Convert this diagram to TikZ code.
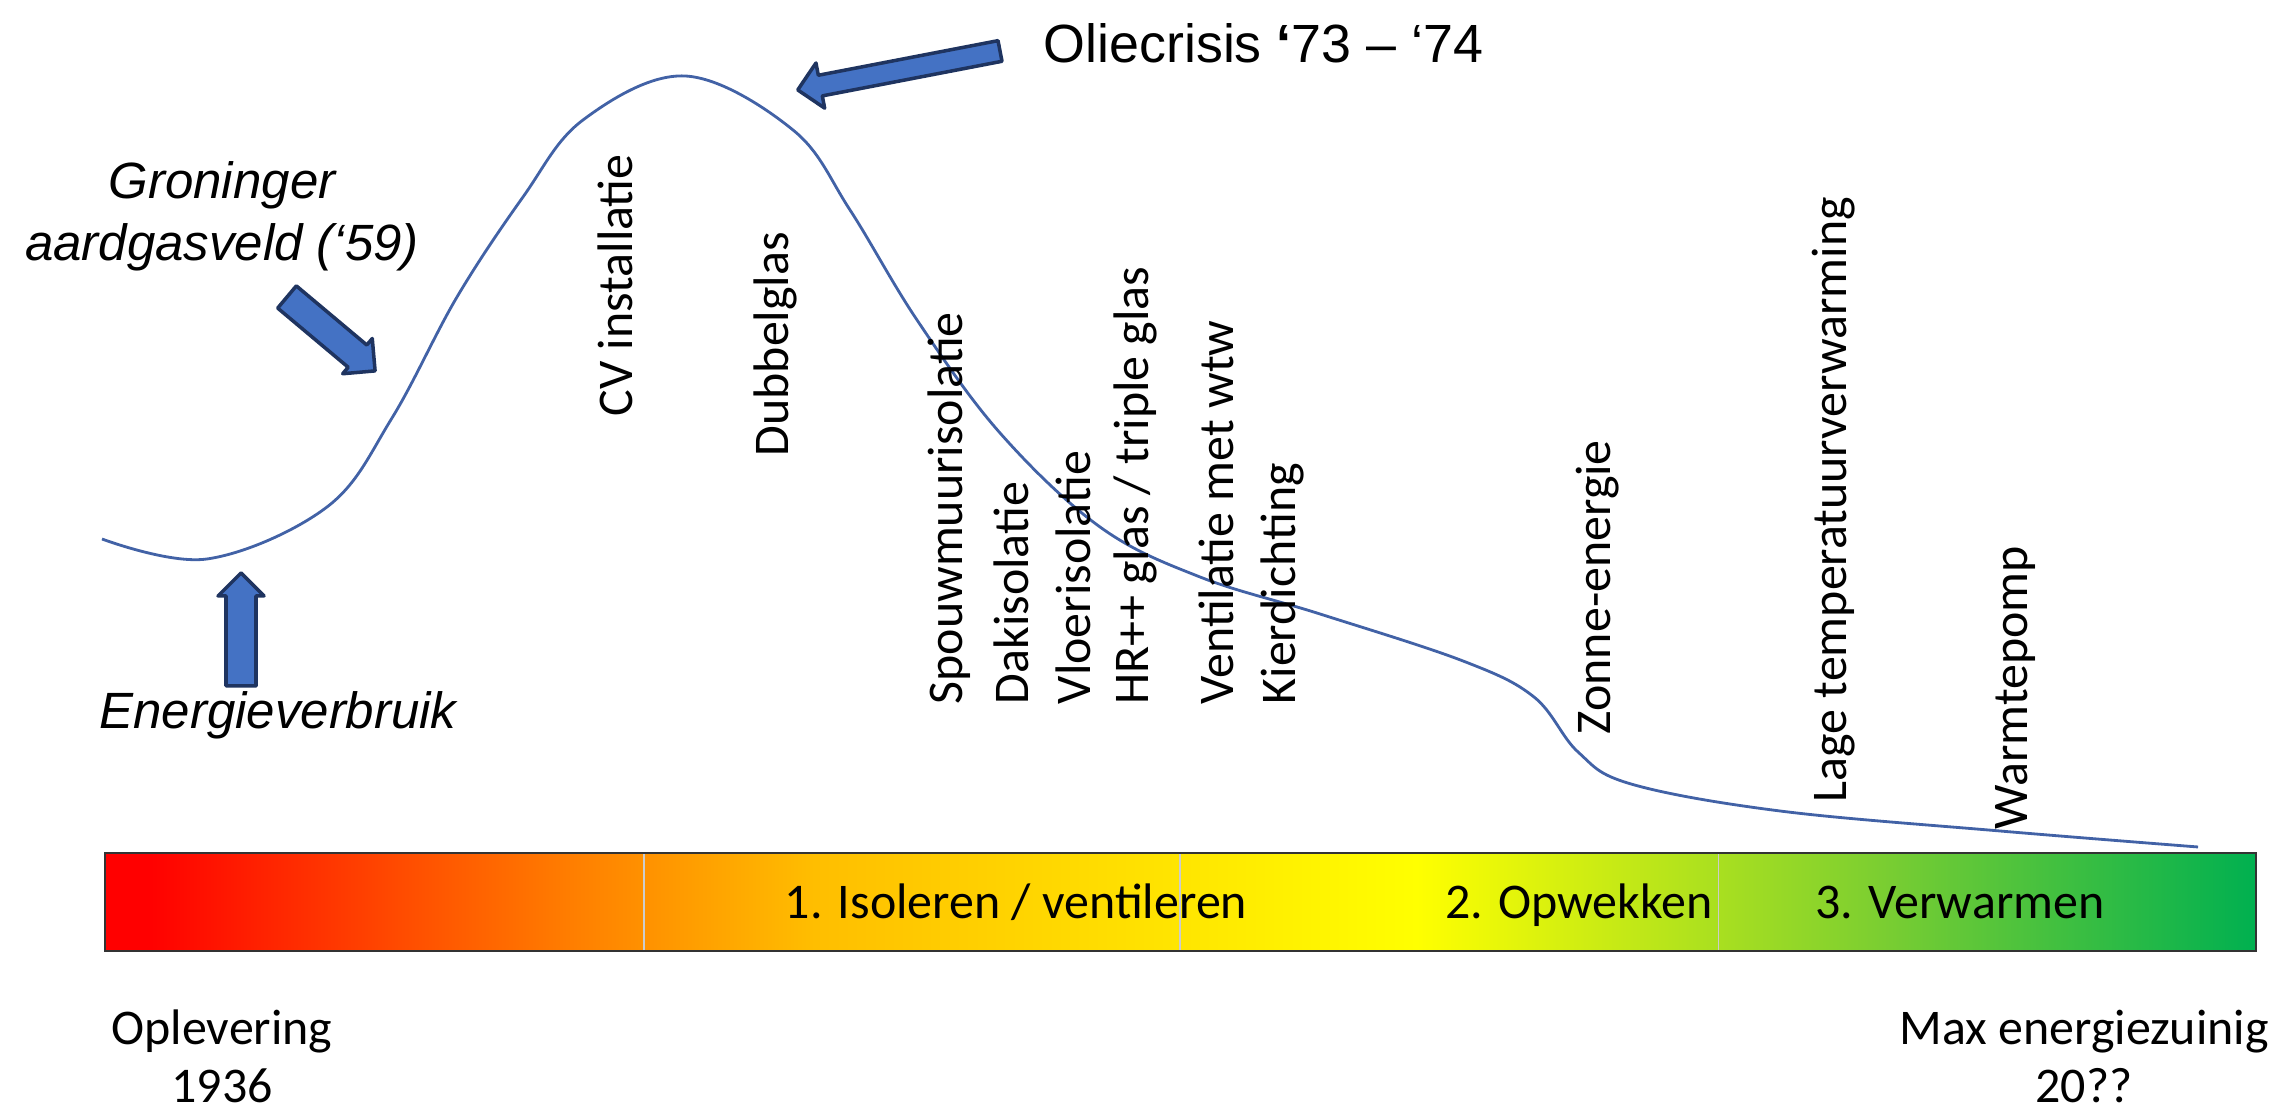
\documentclass[tikz,border=0pt]{standalone}
\usepackage{fontspec}
\setmainfont{Carlito}
\newfontfamily\arialfont{Liberation Sans}
\usepackage{tikz}
\usetikzlibrary{positioning}

\definecolor{curveblauw}{RGB}{66,98,166}
\definecolor{pijlblauw}{RGB}{68,114,196}
\definecolor{pijlrand}{RGB}{31,52,96}
\definecolor{rood}{RGB}{255,0,0}
\definecolor{oranje}{RGB}{255,125,0}
\definecolor{goud}{RGB}{255,190,0}
\definecolor{geel}{RGB}{255,255,0}
\definecolor{lichtgroen}{RGB}{120,205,50}
\definecolor{groen}{RGB}{0,176,80}

\pgfdeclarehorizontalshading{balk}{100bp}{color(0bp)=(rood); color(25bp)=(rood); color(26bp)=(rood); color(35.75bp)=(oranje); color(41.5bp)=(goud); color(55.5bp)=(geel); color(66.5bp)=(lichtgroen); color(75bp)=(groen); color(100bp)=(groen)}

\newcommand{\calibri}{\fontsize{14.2pt}{16.5pt}\selectfont}
\newcommand{\arialit}{\arialfont\itshape\fontsize{14.5pt}{17.6pt}\selectfont}
\newcommand{\arialgroot}{\arialfont\fontsize{15.3pt}{18pt}\selectfont}

% blokpijl: staart, hoek, halve schachtbreedte, lengte
\newcommand{\blokpijl}[4]{%
  \draw[Pijl, shift={#1}, rotate=#2] (0,-#3) -- ({#4-23},-#3) -- ({#4-23},-23) -- (#4,0)
    -- ({#4-23},23) -- ({#4-23},#3) -- (0,#3) -- cycle;}

\begin{document}
\begin{tikzpicture}
  [
    x=0.01cm, y=0.01cm,
    Staand/.style={rotate=90, anchor=base west, inner sep=0pt, font=\calibri},
    Balktekst/.style={anchor=base, inner sep=0pt, font=\calibri},
    Schuin/.style={inner sep=0pt, font=\arialit},
    Pijl/.style={draw=pijlrand, fill=pijlblauw, line width=1pt, line join=round},
    Curve/.style={draw=curveblauw, line width=0.8pt}
  ]
  \useasboundingbox (0,0) rectangle (2280,1116);

  % Balk
  \shade[shading=balk] (105,165) rectangle (2256,263);
  \foreach \x in {644,1180,1718}
    \draw[black!20, line width=0.3pt] (\x,165) -- (\x,263);
  \draw[black!80, line width=0.7pt] (105,165) rectangle (2256,263);
  \node[Balktekst] (stap1) at (1016,197) {1. Isoleren / ventileren};
  \node[Balktekst] (stap2) at (1579,197) {2. Opwekken};
  \node[Balktekst] (stap3) at (1960,197) {3. Verwarmen};

  % Curve
  \draw[Curve] plot[smooth, tension=0.6] coordinates {
    (102,577) (207,557) (327,609) (392,698) (457,819) (523,919) (583,996)
    (685,1040) (793,986) (850,906) (917,796) (1000,683) (1100,589)
    (1200,539) (1320,502) (1463,455) (1534,419) (1578,364) (1631,332)
    (1780,305) (2000,285) (2198,269)};

  % Nodes
  \node[Staand] (cv) at (632,699) {CV installatie};
  \node[Staand] (dubbel) at (788,659) {Dubbelglas};
  \node[Staand] (spouw) at (962,411) {Spouwmuurisolatie};
  \node[Staand] (dak) at (1028,411) {Dakisolatie};
  \node[Staand] (vloer) at (1090,411) {Vloerisolatie};
  \node[Staand] (hrglas) at (1148,411) {HR++ glas / triple glas};
  \node[Staand] (wtw) at (1233,411) {Ventilatie met wtw};
  \node[Staand] (kier) at (1295,411) {Kierdichting};
  \node[Staand] (zon) at (1610,381) {Zonne-energie};
  \node[Staand] (lagetemp) at (1846,313) {Lage temperatuurverwarming};
  \node[Staand] (warmtepomp) at (2027,286) {Warmtepomp};

  \node[Schuin, align=center] (groningen) at (222,900) {Groninger\\aardgasveld (‘59)};
  \node[Schuin, anchor=base] (verbruik) at (278,387) {Energieverbruik};
  \node[inner sep=0pt, anchor=base west, font=\arialgroot] (olie) at (1043,1053)
    {Oliecrisis {\bfseries ‘}73 – ‘74};

  \node[inner sep=0pt, anchor=south, align=center, font=\calibri] (oplevering) at (222,12)
    {Oplevering\\1936};
  \node[inner sep=0pt, anchor=south, align=center, font=\calibri] (maxzuinig) at (2084,12)
    {Max energiezuinig\\20??};

  % Pijlen
  \blokpijl{(241,430)}{90}{15}{113}
  \blokpijl{(287,819)}{-40}{14.5}{115}
  \blokpijl{(1000,1065)}{190.9}{10.5}{206}

\end{tikzpicture}
\end{document}
